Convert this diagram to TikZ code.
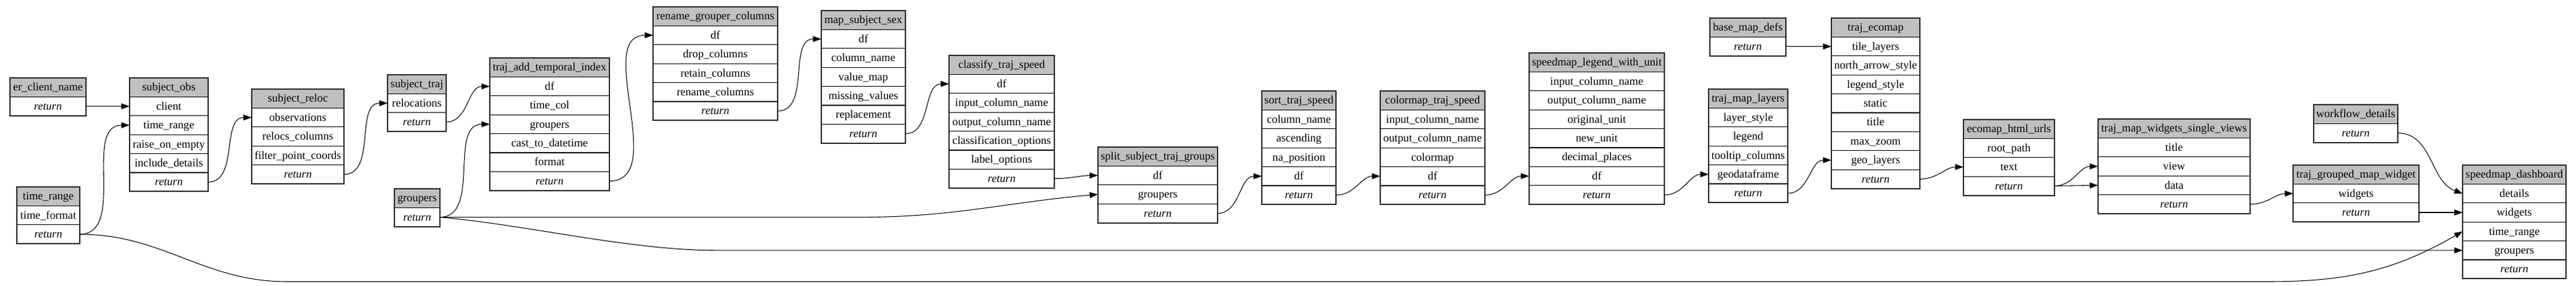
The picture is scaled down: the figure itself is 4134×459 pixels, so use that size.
\documentclass[tikz,border=0pt]{standalone}
\usepackage{fontspec}
\setmainfont{Liberation Serif}
\usetikzlibrary{positioning,arrows.meta}

\definecolor{hdgray}{RGB}{192,192,192}
\newcommand{\rowh}{22.8pt}
% one record: name, top left corner, width, parameters
\newcommand{\fnbox}[4]{%
  \node[fnhead, minimum width=#3*0.75pt] (#1) at (#2) {\detokenize{#1}};
  \gdef\np{0}%
  \def\tmp{#4}%
  \ifx\tmp\empty\else
    \foreach \f [count=\i] in {#4} {
      \pgfmathsetlengthmacro\rowoff{(\i-1)*\rowh}
      \node[fnrow, minimum width=#3*0.75pt, below=\rowoff of #1] (#1-\f) {\expandafter\detokenize\expandafter{\f}};
      \xdef\np{\i}
    }
  \fi
  \pgfmathsetlengthmacro\rowoff{\np*\rowh}
  \node[fnret, minimum width=#3*0.75pt, below=\rowoff of #1] (#1-return) {return};
  \draw[fnframe] (#1.north west) rectangle (#1-return.south east);
}

\begin{document}
\begin{tikzpicture}[x=0.75pt,y=-0.75pt]
    \tikzstyle{fnrow}=[draw,line width=0.9pt,minimum height=\rowh,inner xsep=0.5pt,inner ysep=0pt,outer sep=0pt,text height=11pt,text depth=2.5pt,font=\fontsize{13.6}{16}\selectfont]
    \tikzstyle{fnhead}=[fnrow,fill=hdgray,anchor=north west]
    \tikzstyle{fnret}=[fnrow,font=\fontsize{13.6}{16}\selectfont\itshape]
    \tikzstyle{fnframe}=[draw=black!85,line width=1.6pt]
    \tikzstyle{link}=[line width=0.8pt,-{Triangle[length=10pt,width=7pt]}]
    \useasboundingbox (0,0) rectangle (4134,459);
    % inputs and observations
    \fnbox{er_client_name}{16,125}{122}{}
    \fnbox{time_range}{27,300}{101}{time_format}
    \fnbox{subject_obs}{208,125}{126}{client,time_range,raise_on_empty,include_details}
    \fnbox{subject_reloc}{404,143}{148}{observations,relocs_columns,filter_point_coords}
    \fnbox{subject_traj}{622,120}{94}{relocations}
    \fnbox{groupers}{633,303}{73}{}
    % trajectory preparation
    \fnbox{traj_add_temporal_index}{786,93}{192}{df,time_col,groupers,cast_to_datetime,format}
    \fnbox{rename_grouper_columns}{1048,11}{200}{df,drop_columns,retain_columns,rename_columns}
    \fnbox{map_subject_sex}{1318,17}{135}{df,column_name,value_map,missing_values,replacement}
    \fnbox{classify_traj_speed}{1523,89}{169}{df,input_column_name,output_column_name,classification_options,label_options}
    \fnbox{split_subject_traj_groups}{1762,236}{192}{df,groupers}
    \fnbox{sort_traj_speed}{2025,146}{119}{column_name,ascending,na_position,df}
    \fnbox{colormap_traj_speed}{2215,146}{168}{input_column_name,output_column_name,colormap,df}
    \fnbox{speedmap_legend_with_unit}{2454,85}{217}{input_column_name,output_column_name,original_unit,new_unit,decimal_places,df}
    % maps and widgets
    \fnbox{base_map_defs}{2744,29}{122}{}
    \fnbox{traj_map_layers}{2742,143}{127}{layer_style,legend,tooltip_columns,geodataframe}
    \fnbox{traj_ecomap}{2939,29}{142}{tile_layers,north_arrow_style,legend_style,static,title,max_zoom,geo_layers}
    \fnbox{ecomap_html_urls}{3151,192}{146}{root_path,text}
    \fnbox{traj_map_widgets_single_views}{3367,191}{244}{title,view,data}
    \fnbox{workflow_details}{3713,168}{135}{}
    \fnbox{traj_grouped_map_widget}{3680,265}{202}{widgets}
    \fnbox{speedmap_dashboard}{3952,265}{166}{details,widgets,time_range,groupers}
    % connections
    \draw[link] (er_client_name-return.east) -- (subject_obs-client.west);
    \draw[link] (time_range-return.east) to[out=0,in=180] (subject_obs-time_range.west);
    \draw[link] (subject_obs-return.east) to[out=0,in=180] (subject_reloc-observations.west);
    \draw[link] (subject_reloc-return.east) to[out=0,in=180] (subject_traj-relocations.west);
    \draw[link] (subject_traj-return.east) to[out=0,in=180] (traj_add_temporal_index-df.west);
    \draw[link] (groupers-return.east) to[out=0,in=180] (traj_add_temporal_index-groupers.west);
    \draw[link] (traj_add_temporal_index-return.east) to[out=0,in=180] (rename_grouper_columns-df.west);
    \draw[link] (rename_grouper_columns-return.east) to[out=0,in=180] (map_subject_sex-df.west);
    \draw[link] (map_subject_sex-return.east) to[out=0,in=180] (classify_traj_speed-df.west);
    \draw[link] (classify_traj_speed-return.east) to[out=0,in=180] (split_subject_traj_groups-df.west);
    \draw[link] (groupers-return.east) -- (1380,348.6) to[out=0,in=185] (split_subject_traj_groups-groupers.west);
    \draw[link] (split_subject_traj_groups-return.east) to[out=0,in=180] (sort_traj_speed-df.west);
    \draw[link] (sort_traj_speed-return.east) to[out=0,in=180] (colormap_traj_speed-df.west);
    \draw[link] (colormap_traj_speed-return.east) to[out=0,in=180] (speedmap_legend_with_unit-df.west);
    \draw[link] (speedmap_legend_with_unit-return.east) to[out=0,in=180] (traj_map_layers-geodataframe.west);
    \draw[link] (base_map_defs-return.east) -- (traj_ecomap-tile_layers.west);
    \draw[link] (traj_map_layers-return.east) to[out=0,in=180] (traj_ecomap-geo_layers.west);
    \draw[link] (traj_ecomap-return.east) to[out=0,in=180] (ecomap_html_urls-text.west);
    \draw[link] (ecomap_html_urls-return.east) to[out=0,in=180] (traj_map_widgets_single_views-view.west);
    \draw[link] (ecomap_html_urls-return.east) -- (traj_map_widgets_single_views-data.west);
    \draw[link] (traj_map_widgets_single_views-return.east) to[out=0,in=180] (traj_grouped_map_widget-widgets.west);
    \draw[link] (workflow_details-return.east) to[out=0,in=160] (speedmap_dashboard-details.west);
    \draw[link] (traj_grouped_map_widget-return.east) -- (speedmap_dashboard-widgets.west);
    % long edges along the bottom
    \draw[link] (groupers-return.east) to[out=-5,in=180,looseness=0.8] (1150,401.8) -- (speedmap_dashboard-groupers.west);
    \draw[link] (time_range-return.east) to[out=0,in=180] (460,452) -- (3640,452) to[out=0,in=210] (speedmap_dashboard-time_range.west);
\end{tikzpicture}
\end{document}
